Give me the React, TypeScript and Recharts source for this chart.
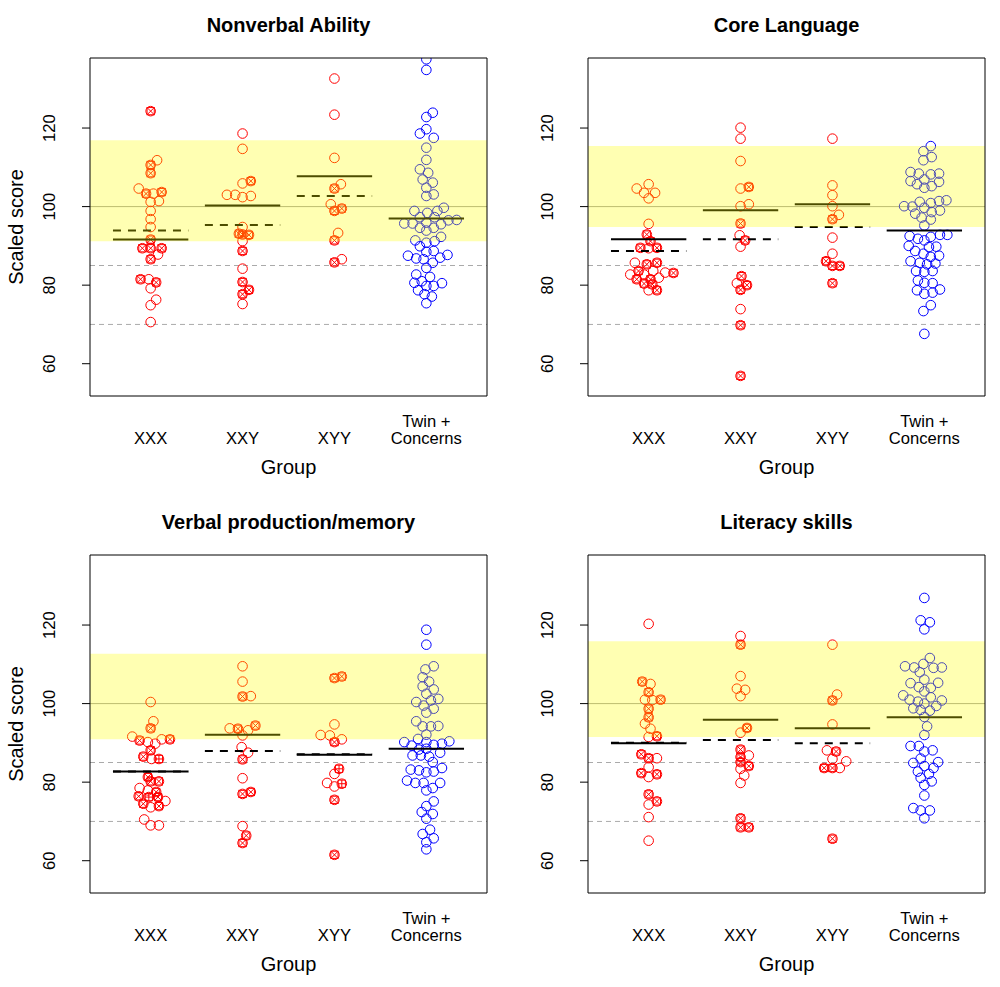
import { ScatterChart, Scatter, XAxis, YAxis, ReferenceArea, ReferenceLine } from "recharts";

// [x offset within group, score, marker] ; marker: o = circle, x = crossed box, p = plus box
type Pt = [number, number, string?];

const GROUPS = ["XXX", "XXY", "XYY", "Twin +\nConcerns"];
const Y_TICKS = [60, 80, 100, 120];
const X_TICKS = [1, 2, 3, 4];
const Y_DOMAIN: [number, number] = [51.78, 137.83];
const X_DOMAIN: [number, number] = [0.34, 4.66];
const REF_LINES = [85, 70];

// ---- Nonverbal Ability
const nvXXX: Pt[] = [
  [0, 124.3, "x"], [0.07, 111.8], [0, 110.6, "x"], [0, 108.5, "x"], [-0.13, 104.6], [-0.05, 103.3, "x"],
  [0.03, 103.3], [0.12, 103.7, "x"], [0, 101.2], [0.09, 101.4], [0, 98.9], [0, 96.8], [0, 94.8],
  [0, 91.6, "x"], [-0.09, 89.4, "x"], [0, 89.4, "x"], [0.12, 89.4, "x"], [0.08, 87.8], [0, 86.6, "x"],
  [-0.11, 81.5, "x"], [-0.02, 81.5], [0.06, 80.7, "x"], [0, 79.2], [0.06, 76.3], [0, 74.9], [0, 70.6],
];
const nvXXY: Pt[] = [
  [0, 118.6], [0, 114.7], [0, 105.9], [0.09, 106.5, "x"], [-0.17, 103.0], [-0.08, 103.0], [0, 102.4],
  [0.09, 102.7], [0, 94.8], [-0.04, 93.1, "x"], [0.07, 92.8, "x"], [0, 92.9, "x"], [0, 91.2],
  [0, 88.7, "x"], [0, 84.2], [0, 80.8, "x"], [0.07, 78.8, "x"], [0, 77.7, "x"], [0, 75.2],
];
const nvXYY: Pt[] = [
  [0, 132.6], [0, 123.4], [0, 112.4], [0.07, 105.7], [0, 104.6, "x"], [-0.04, 100.6], [0, 98.9, "x"],
  [0.08, 99.5, "x"], [0.04, 93.3], [0, 91.4, "x"], [0.08, 86.6], [0, 85.8, "x"],
];
const nvTwin: Pt[] = [
  [0, 137.5], [0, 134.8], [0, 122.8], [0.07, 123.9], [0, 119.7], [-0.07, 118.6], [0.08, 117.5], [0, 115.0],
  [0, 111.9], [-0.07, 109.5], [0.02, 108.6], [-0.04, 106.9], [0.07, 106.1], [0, 104.8], [0.08, 103.1],
  [0, 102.7], [0.19, 99.7], [-0.13, 98.9], [0.01, 98.4], [0.12, 98.9], [-0.07, 97.3], [0.09, 97.3],
  [0.24, 96.5], [0.33, 96.6], [-0.24, 95.7], [-0.15, 95.7], [0, 95.9], [0.16, 95.5], [-0.07, 94.6],
  [0.08, 94.6], [0, 93.9], [0.16, 92.3], [-0.12, 91.4], [0.09, 91.2], [-0.07, 89.9], [0, 90.8], [0, 88.5],
  [0.08, 88.7], [0.23, 87.7], [-0.2, 87.5], [-0.11, 86.8], [-0.03, 86.6], [0.15, 87.0], [0.07, 85.7],
  [0, 84.4], [-0.11, 82.7], [0.04, 82.1], [-0.13, 80.6], [-0.05, 81.0], [0.17, 80.5], [0, 79.8],
  [0.08, 79.8], [-0.09, 78.7], [0.06, 77.1], [-0.02, 77.7], [0, 75.4],
];
const nvMean = [91.6, 100.3, 107.7, 97.0];
const nvMedian = [93.9, 95.3, 102.7];
const nvBand = [91.2, 116.9];

// ---- Core Language
const clXXX: Pt[] = [
  [-0.13, 104.6], [0, 105.7], [-0.05, 103.5], [0.07, 103.5], [0, 102.1], [0, 95.6], [-0.02, 92.9, "x"],
  [0.02, 91.2, "x"], [-0.09, 89.5, "x"], [0, 89.4], [0.09, 89.5, "x"], [-0.15, 85.7], [-0.02, 85.3, "x"],
  [0.09, 85.7, "x"], [-0.2, 82.7], [-0.11, 83.6, "x"], [0.05, 83.6], [0.18, 83.2], [0.27, 83.1, "x"],
  [-0.05, 82.7], [-0.13, 81.5, "x"], [0.02, 81.5, "x"], [0.11, 81.9], [-0.05, 80.4, "x"], [0.04, 80.2, "x"],
  [0, 78.7], [0.09, 78.7, "x"],
];
const clXXY: Pt[] = [
  [0, 120.1], [0, 117.3], [0, 111.6], [0, 104.6], [0.09, 105.0, "x"], [0, 100.1], [0.09, 100.6],
  [0, 95.7, "x"], [-0.01, 92.7], [0.05, 91.4, "x"], [0, 89.8], [0.01, 82.3, "x"], [-0.04, 80.5],
  [0.07, 80.0, "x"], [0, 78.8, "x"], [0, 73.9], [0, 69.8, "x"], [0, 56.9, "x"],
];
const clXYY: Pt[] = [
  [0, 117.3], [0, 105.4], [0, 102.9], [0, 100.1], [0.07, 97.9], [0, 96.8, "x"], [0, 92.1], [0, 88.0],
  [-0.07, 86.1, "x"], [0, 84.9, "x"], [0.08, 84.9, "x"], [0, 80.5, "x"],
];
const clTwin: Pt[] = [
  [0.07, 115.4], [-0.01, 114.1], [0.08, 112.6], [-0.01, 111.8], [-0.15, 108.8], [-0.06, 108.4], [0.07, 108.2],
  [0.16, 108.4], [-0.15, 106.5], [0, 106.9], [-0.08, 105.7], [0.16, 106.3], [0.08, 105.2], [0, 104.8],
  [-0.22, 100.1], [-0.13, 100.0], [-0.05, 101.2], [0.07, 100.9], [0.16, 101.4], [0.24, 101.6], [0, 99.7],
  [-0.1, 98.2], [0.08, 98.6], [0.17, 99.0], [-0.03, 97.2], [0.07, 96.7], [0, 95.2], [-0.16, 92.5],
  [-0.07, 91.8], [0.07, 92.3], [0.17, 92.8], [0.25, 92.8], [0, 91.4], [-0.17, 90.0], [0.13, 89.8],
  [-0.1, 88.7], [0.05, 89.7], [-0.01, 88.0], [0.16, 87.5], [0.07, 87.2], [-0.15, 86.1], [-0.05, 85.7],
  [0.03, 85.3], [0.12, 85.5], [-0.09, 83.6], [0, 83.4], [0.09, 83.6], [-0.07, 81.2], [0, 80.6], [0.09, 80.5],
  [-0.08, 78.7], [0, 77.8], [0.09, 78.1], [0.17, 78.9], [0.07, 74.9], [-0.01, 73.4], [0, 67.6],
];
const clMean = [91.7, 99.1, 100.6, 93.9];
const clMedian = [88.7, 91.7, 94.8];
const clBand = [94.8, 115.4];

// ---- Verbal production/memory
const vpXXX: Pt[] = [
  [0, 100.4], [0.03, 95.5], [0, 93.7, "x"], [-0.2, 91.6], [-0.12, 90.6, "x"], [-0.03, 90.2], [0.05, 89.8],
  [0.12, 90.9], [0.21, 90.9, "x"], [0, 88.1, "x"], [-0.08, 86.5, "x"], [0.01, 85.9], [0.09, 85.9, "p"],
  [-0.03, 81.3, "x"], [0, 80.2, "x"], [0.09, 80.2, "x"], [-0.12, 78.5], [-0.03, 77.9], [0.06, 77.5, "x"],
  [-0.13, 76.4, "x"], [-0.02, 76.2, "p"], [0.08, 76.2, "x"], [-0.08, 74.5, "x"], [0, 73.6], [0.09, 73.9, "x"],
  [0.16, 75.2], [-0.07, 70.5], [0, 69.0], [0.09, 69.0],
];
const vpXXY: Pt[] = [
  [0, 109.5], [0, 105.6], [0, 101.8, "x"], [0.09, 101.9], [-0.14, 93.7], [-0.05, 93.6, "x"], [0.06, 93.2],
  [0.14, 94.4, "x"], [0, 91.9], [-0.01, 88.9], [0.06, 87.5], [0, 85.8, "x"], [0, 81.0], [0, 77.0, "x"],
  [0.09, 77.5, "x"], [0, 68.8], [0.04, 66.4, "x"], [0, 64.5, "x"],
];
const vpXYY: Pt[] = [
  [0, 106.5, "x"], [0.08, 106.9, "x"], [0, 94.7], [-0.15, 92.0], [-0.05, 91.9], [0.08, 90.9], [0, 90.2, "x"],
  [0.05, 83.4, "p"], [0, 82.1], [-0.08, 79.8], [0, 78.9], [0.08, 79.6, "p"], [0, 75.5, "x"], [0, 61.5, "x"],
];
const vpTwin: Pt[] = [
  [0, 118.8], [0, 115.0], [0.08, 109.5], [-0.01, 108.7], [-0.04, 106.7], [0.03, 105.6], [-0.04, 104.4],
  [0.08, 103.6], [0, 102.5], [0.13, 101.2], [0.05, 100.8], [-0.11, 100.4], [-0.03, 99.5], [0.08, 98.7],
  [0, 97.7], [-0.11, 95.5], [-0.04, 94.2], [0.05, 94.2], [0.13, 94.3], [0, 92.1], [-0.09, 91.0],
  [-0.24, 90.2], [-0.16, 89.3], [0, 90.2], [0.08, 89.5], [0.17, 89.8], [0.25, 90.4], [-0.08, 88.3],
  [0, 88.5], [-0.15, 86.8], [-0.06, 86.8], [0.15, 87.5], [0.03, 86.5], [0.07, 85.1], [-0.17, 83.2],
  [-0.08, 83.0], [0, 82.5], [0.08, 82.7], [0.17, 83.6], [-0.21, 80.4], [-0.12, 79.8], [-0.03, 79.8],
  [0.15, 79.8], [0.07, 78.5], [0, 77.9], [0.08, 75.1], [0, 73.9], [-0.05, 72.4], [0.07, 71.9], [0, 70.7],
  [0.04, 67.9], [-0.04, 66.8], [0.08, 65.7], [0, 64.7], [0, 62.9],
];
const vpMean = [82.7, 92.1, 87.0, 88.5];
const vpMedian = [82.7, 87.9, 87.1];
const vpBand = [90.9, 112.7];

// ---- Literacy skills
const liXXX: Pt[] = [
  [0, 120.3], [-0.07, 105.6, "x"], [0.02, 105.0], [0, 102.9, "x"], [-0.04, 101.0], [0.04, 100.9],
  [0.13, 101.0, "x"], [0, 98.7, "x"], [0, 96.5, "x"], [-0.04, 94.9], [0.02, 93.6], [0, 91.5], [0.09, 91.7, "x"],
  [-0.08, 87.1, "x"], [0, 86.1, "x"], [0.09, 86.1], [0, 83.8], [-0.08, 82.3, "x"], [0, 81.3], [0.09, 82.0, "x"],
  [0, 76.9, "x"], [0.09, 75.1, "x"], [0, 74.3], [0, 71.1], [0, 65.1],
];
const liXXY: Pt[] = [
  [0, 117.2], [0, 115.0, "x"], [0, 107.0], [-0.04, 103.8], [0.05, 103.5], [0, 101.9], [0.07, 93.8, "x"],
  [0, 92.6], [0, 88.3, "x"], [0.09, 86.8], [0, 86.4, "x"], [0, 85.1, "x"], [0.09, 84.1, "x"], [0, 83.4],
  [0.04, 81.7], [0, 79.8], [0, 70.8, "x"], [0, 68.5, "x"], [0.09, 68.5, "x"],
];
const liXYY: Pt[] = [
  [0, 115.0], [0.05, 102.3], [0, 100.8, "x"], [0, 94.7], [-0.06, 88.1], [0.04, 87.8, "x"], [0, 85.9],
  [0.15, 85.3], [-0.09, 83.6, "x"], [0, 83.6, "x"], [0.08, 83.6], [0, 65.6, "x"],
];
const liTwin: Pt[] = [
  [0, 126.9], [-0.04, 121.2], [0.06, 120.7], [0, 118.9], [0.06, 111.6], [-0.01, 110.1], [-0.21, 109.5],
  [-0.11, 109.2], [0.1, 109.1], [0.19, 109.2], [-0.05, 108.0], [0, 106.1], [-0.15, 105.2], [0.15, 105.3],
  [-0.06, 104.2], [0.07, 104.0], [0, 103.1], [-0.23, 102.1], [-0.16, 101.0], [-0.07, 100.5], [0.07, 101.6],
  [0.19, 100.8], [0, 100.0], [0.13, 99.4], [-0.12, 98.8], [-0.04, 98.4], [0.06, 98.2], [0, 96.6],
  [0.03, 94.2], [0, 92.0], [-0.15, 89.2], [-0.06, 89.2], [0, 87.8], [0.09, 88.1], [-0.04, 86.0],
  [-0.12, 84.9], [0.15, 85.1], [-0.07, 82.7], [0, 84.1], [0.1, 83.6], [0.05, 82.1], [-0.04, 81.1],
  [0.08, 80.2], [0, 79.3], [0, 76.6], [-0.12, 73.4], [-0.04, 72.8], [0.06, 72.8], [0, 70.8],
];
const liMean = [89.9, 95.9, 93.7, 96.5];
const liMedian = [90.0, 90.7, 89.9];
const liBand = [91.5, 115.9];

const PANELS = [
  { title: "Nonverbal Ability", groups: [nvXXX, nvXXY, nvXYY, nvTwin], mean: nvMean, median: nvMedian, band: nvBand },
  { title: "Core Language", groups: [clXXX, clXXY, clXYY, clTwin], mean: clMean, median: clMedian, band: clBand },
  { title: "Verbal production/memory", groups: [vpXXX, vpXXY, vpXYY, vpTwin], mean: vpMean, median: vpMedian, band: vpBand },
  { title: "Literacy skills", groups: [liXXX, liXXY, liXYY, liTwin], mean: liMean, median: liMedian, band: liBand },
];

const FONT = "'Liberation Sans', Arial, Helvetica, sans-serif";
const HALF = 0.41;

function Marker(props: any) {
  const { cx, cy, payload } = props;
  if (cx == null || cy == null) return null;
  const col = payload.g === 3 ? "#0000ff" : "#ff0000";
  const s = 3.6;
  return (
    <g fill="none" stroke={col} strokeWidth={1}>
      <circle cx={cx} cy={cy} r={4.8} />
      {payload.t === "x" && (
        <>
          <rect x={cx - s} y={cy - s} width={2 * s} height={2 * s} />
          <path d={`M${cx - s},${cy - s}L${cx + s},${cy + s}M${cx - s},${cy + s}L${cx + s},${cy - s}`} />
        </>
      )}
      {payload.t === "p" && (
        <>
          <rect x={cx - s} y={cy - s} width={2 * s} height={2 * s} />
          <path d={`M${cx - s},${cy}L${cx + s},${cy}M${cx},${cy - s}L${cx},${cy + s}`} />
        </>
      )}
    </g>
  );
}

const XTick = (props: any) => {
  const { x, y, payload } = props;
  const lines = GROUPS[payload.value - 1].split("\n");
  return (
    <g>
      {lines.map((l, i) => (
        <text key={i} x={x} y={y + 47.5 - (lines.length - 1 - i) * 17} textAnchor="middle"
          fontSize={16.6} fontFamily={FONT} fill="#000">{l}</text>
      ))}
    </g>
  );
};

const YTick = (props: any) => {
  const { x, y, payload } = props;
  const bx = x - 27;
  return (
    <text x={bx} y={y} transform={`rotate(-90 ${bx} ${y})`} textAnchor="middle"
      fontSize={16.6} fontFamily={FONT} fill="#000">{payload.value}</text>
  );
};

function Panel({ p, idx }: { p: (typeof PANELS)[number]; idx: number }) {
  const left = (idx % 2) * 498;
  const top = Math.floor(idx / 2) * 497;
  const data = p.groups.flatMap((g, gi) => g.map(([dx, v, t]) => ({ x: gi + 1 + dx, y: v, t: t ?? "o", g: gi })));

  return (
    <div style={{ position: "absolute", left, top, width: 500, height: 494 }}>
      <ScatterChart width={500} height={494} margin={{ top: 58, right: 13, bottom: 58, left: 0 }}>
        <XAxis type="number" dataKey="x" domain={X_DOMAIN} ticks={X_TICKS} interval={0} allowDataOverflow
          axisLine={false} tickLine={false} tickSize={0} tickMargin={0} height={40} tick={<XTick />} />
        <YAxis type="number" dataKey="y" domain={Y_DOMAIN} ticks={Y_TICKS} interval={0} allowDataOverflow
          width={90} axisLine={false} tickSize={8} tickMargin={0}
          tickLine={{ stroke: "#000", strokeWidth: 1 }} tick={<YTick />} />

        {REF_LINES.map((v) => (
          <ReferenceLine key={v} y={v} stroke="#aaaaaa" strokeWidth={1} strokeDasharray="5 4" zIndex={550} />
        ))}
        <ReferenceLine y={100} stroke="#a0a0a0" strokeWidth={1} zIndex={550} />

        <Scatter data={data} shape={Marker} isAnimationActive={false} />

        {p.mean.map((m, i) => (
          <ReferenceLine key={"m" + i} segment={[{ x: i + 1 - HALF, y: m }, { x: i + 1 + HALF, y: m }]}
            stroke="#000" strokeWidth={2} zIndex={650} />
        ))}
        {p.median.map((m, i) => (
          <ReferenceLine key={"d" + i} segment={[{ x: i + 1 - HALF, y: m }, { x: i + 1 + HALF, y: m }]}
            stroke="#000" strokeWidth={2} strokeDasharray="8 7" zIndex={650} />
        ))}

        <ReferenceArea x1={X_DOMAIN[0]} x2={X_DOMAIN[1]} y1={p.band[0]} y2={p.band[1]}
          fill="#ffff00" fillOpacity={0.3} stroke="none" zIndex={700} />
        <ReferenceArea x1={X_DOMAIN[0]} x2={X_DOMAIN[1]} y1={Y_DOMAIN[0]} y2={Y_DOMAIN[1]}
          fill="none" stroke="#000" strokeWidth={1} zIndex={800} />
      </ScatterChart>

      <svg width={500} height={494} style={{ position: "absolute", left: 0, top: 0, pointerEvents: "none" }}>
        <text x={288.5} y={32} textAnchor="middle" fontSize={20} fontWeight="bold" fontFamily={FONT}>{p.title}</text>
        {idx % 2 === 0 && (
          <text x={22.5} y={227} transform="rotate(-90 22.5 227)" textAnchor="middle" fontSize={20} fontFamily={FONT}>
            Scaled score
          </text>
        )}
        <text x={288.5} y={474} textAnchor="middle" fontSize={20} fontFamily={FONT}>Group</text>
      </svg>
    </div>
  );
}

export default function App() {
  return (
    <div style={{ position: "absolute", left: 0, top: 0, width: 1000, height: 987, background: "#fff" }}>
      {PANELS.map((p, i) => (
        <Panel key={p.title} p={p} idx={i} />
      ))}
    </div>
  );
}
